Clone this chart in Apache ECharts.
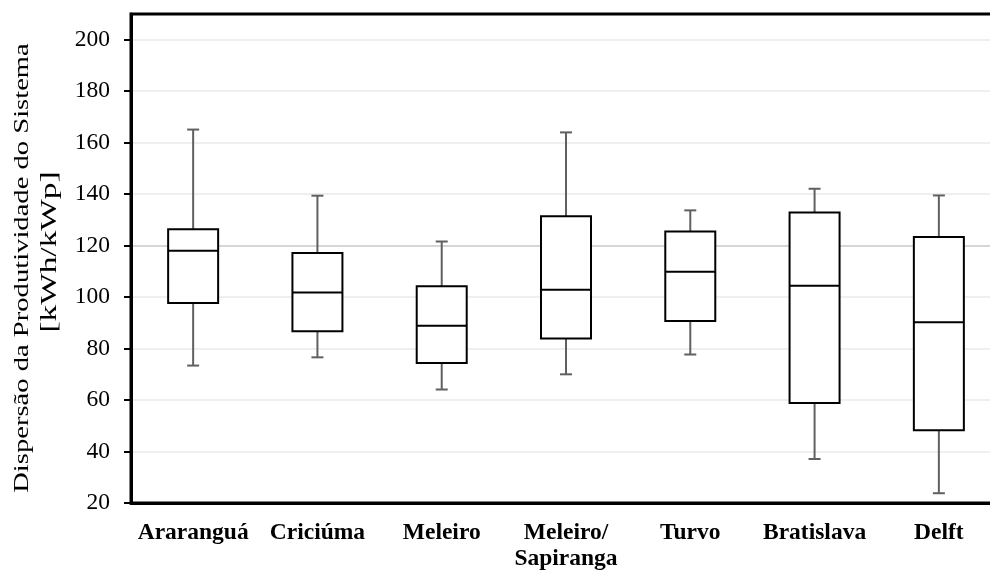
<!DOCTYPE html>
<html>
<head>
<meta charset="utf-8">
<script src="https://cdn.jsdelivr.net/npm/echarts@6/dist/echarts.min.js"></script>
<style>
html,body{margin:0;padding:0;background:#fff;}
#chart{width:990px;height:570px;}
</style>
</head>
<body>
<div id="chart"></div>
<script>
var categories = ['Araranguá', 'Criciúma', 'Meleiro', 'Meleiro/\nSapiranga', 'Turvo', 'Bratislava', 'Delft'];
var whiskerLow  = [73.4, 76.6, 64.1, 70.0, 77.7, 37.1, 23.8];
var q1Values    = [97.7, 86.7, 74.4, 83.9, 90.7, 58.9, 48.3];
var medianValues= [118.0, 101.8, 88.9, 102.9, 109.9, 104.4, 90.2];
var q3Values    = [126.4, 117.1, 104.2, 131.4, 125.5, 132.9, 123.4];
var whiskerHigh = [165.1, 139.4, 121.6, 164.0, 133.7, 142.1, 139.5];
var yTickLabels = [20, 40, 60, 80, 100, 120, 140, 160, 180, 200];
var titleLine1 = 'Dispersão da Produtividade do Sistema';
var titleLine2 = '[kWh/kWp]';

var data = categories.map(function (c, i) {
  return [i, whiskerLow[i], q1Values[i], medianValues[i], q3Values[i], whiskerHigh[i]];
});

var gridColors = [];
for (var k = 0; k < 5; k++) gridColors.push(k === 0 ? '#d6d6d6' : '#efefef');

var chart = echarts.init(document.getElementById('chart'));
chart.setOption({
  animation: false,
  backgroundColor: '#fff',
  grid: { left: 131, top: 14, right: -11, bottom: 67, outerBoundsMode: 'none', containLabel: false,
          show: true, borderColor: '#000', borderWidth: 3, backgroundColor: 'transparent' },
  graphic: [
    { type: 'text', x: 22, y: 268, rotation: Math.PI / 2, scaleX: 1.3,
      style: { text: titleLine1, fill: '#000', font: '22px "Liberation Serif"', align: 'center', verticalAlign: 'middle' } },
    { type: 'text', x: 50, y: 252, rotation: Math.PI / 2, scaleX: 1.45,
      style: { text: titleLine2, fill: '#000', font: '23px "Liberation Serif"', align: 'center', verticalAlign: 'middle' } }
  ],
  xAxis: {
    type: 'category',
    data: categories,
    axisLine: { show: true, lineStyle: { color: '#000', width: 3 } },
    axisTick: { show: false },
    splitLine: { show: false },
    axisLabel: { interval: 0, color: '#000', fontFamily: 'Liberation Serif', fontWeight: 'bold', fontSize: 23.5, margin: 17, lineHeight: 26 }
  },
  yAxis: {
    type: 'value',
    min: 20, max: 210, interval: 4,
    axisLine: { show: true, lineStyle: { color: '#000', width: 3 } },
    axisTick: { show: true, length: 7, customValues: yTickLabels, lineStyle: { color: '#000', width: 2 } },
    axisLabel: { customValues: yTickLabels, color: '#000', fontFamily: 'Liberation Serif', fontSize: 23.5, margin: 21 },
    splitLine: { show: true, lineStyle: { color: gridColors, width: 2 } }
  },
  series: [{
    type: 'custom',
    data: data,
    encode: { x: 0, y: [1, 2, 3, 4, 5] },
    renderItem: function (params, api) {
      var idx = api.value(0);
      var pLow = api.coord([idx, api.value(1)]);
      var pQ1 = api.coord([idx, api.value(2)]);
      var pMed = api.coord([idx, api.value(3)]);
      var pQ3 = api.coord([idx, api.value(4)]);
      var pHigh = api.coord([idx, api.value(5)]);
      var x = pMed[0];
      var halfBox = 25, halfCap = 6;
      var whiskerStyle = { stroke: '#606060', lineWidth: 2 };
      var boxStyle = { stroke: '#000', lineWidth: 2, fill: '#fff' };
      return {
        type: 'group',
        children: [
          { type: 'line', shape: { x1: x, y1: pHigh[1], x2: x, y2: pQ3[1] }, style: whiskerStyle },
          { type: 'line', shape: { x1: x - halfCap, y1: pHigh[1], x2: x + halfCap, y2: pHigh[1] }, style: whiskerStyle },
          { type: 'line', shape: { x1: x, y1: pQ1[1], x2: x, y2: pLow[1] }, style: whiskerStyle },
          { type: 'line', shape: { x1: x - halfCap, y1: pLow[1], x2: x + halfCap, y2: pLow[1] }, style: whiskerStyle },
          { type: 'rect', shape: { x: x - halfBox, y: pQ3[1], width: 2 * halfBox, height: pQ1[1] - pQ3[1] }, style: boxStyle },
          { type: 'line', shape: { x1: x - halfBox, y1: pMed[1], x2: x + halfBox, y2: pMed[1] }, style: { stroke: '#000', lineWidth: 2 } }
        ]
      };
    }
  }]
});
</script>
</body>
</html>
